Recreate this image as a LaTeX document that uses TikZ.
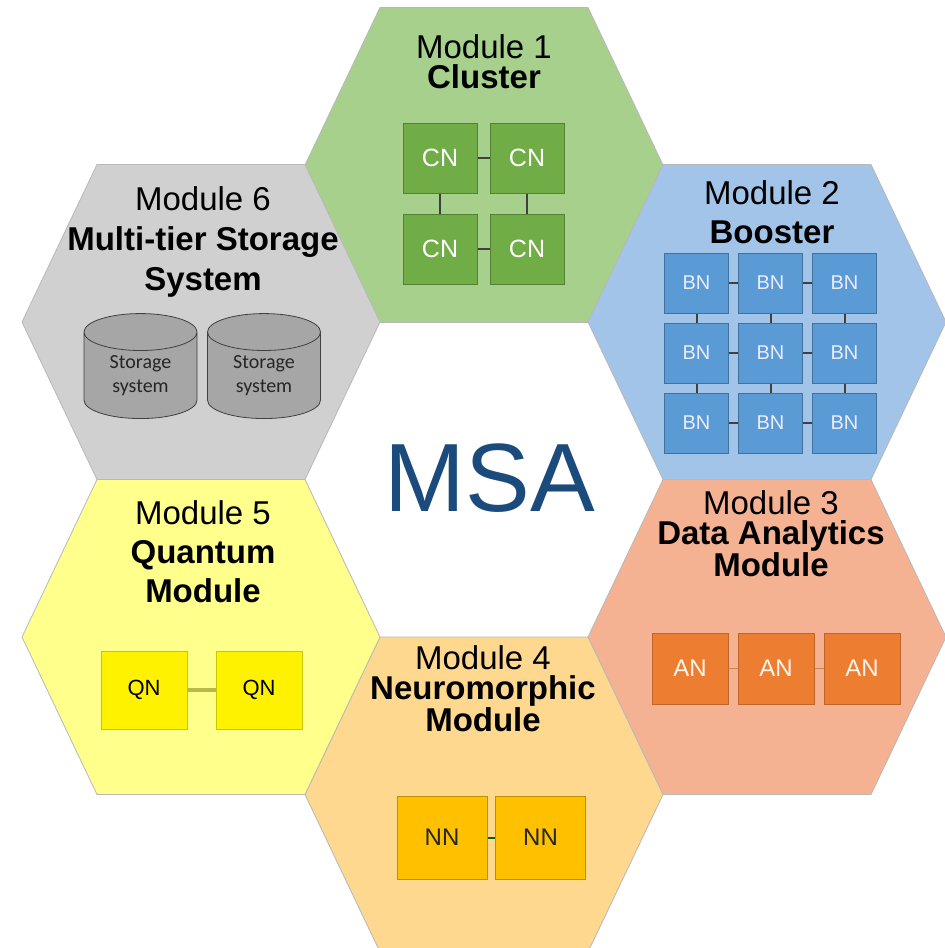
\documentclass[tikz,border=0pt]{standalone}
\usepackage{fontspec}
\setmainfont{Liberation Sans}
\newfontfamily\storefont{Carlito}
\usetikzlibrary{shapes.geometric,positioning}

\definecolor{hexone}{HTML}{A8D08D}
\definecolor{hextwo}{HTML}{A2C4E9}
\definecolor{hexthree}{HTML}{F5B293}
\definecolor{hexfour}{HTML}{FFD88F}
\definecolor{hexfive}{HTML}{FFFF8C}
\definecolor{hexsix}{HTML}{D0D0D0}
\definecolor{msablue}{HTML}{1B4B7C}
\definecolor{cnfill}{HTML}{70AD47}
\definecolor{cndark}{HTML}{548235}
\definecolor{bnfill}{HTML}{5B9BD5}
\definecolor{bndark}{HTML}{41719C}
\definecolor{anfill}{HTML}{ED7D31}
\definecolor{andark}{HTML}{C0652A}
\definecolor{qndark}{HTML}{C8C800}
\definecolor{qnlinkc}{HTML}{B8B84A}
\definecolor{nnfill}{HTML}{FFC000}
\definecolor{nndark}{HTML}{BF9000}

% one honeycomb cell: centre, fill colour
\newcommand\hexcell[2]{%
  \filldraw[hexline, fill=#2] (#1) ++(-179,0) -- ++(75,-157.5) -- ++(208,0)
    -- ++(75,157.5) -- ++(-75,157.5) -- ++(-208,0) -- cycle;}

\begin{document}
\begin{tikzpicture}[%
    x=1pt, y=-1pt,               % pixel grid of the picture
    every node/.style={inner sep=0pt},
    ]
% -------------------------------------------------
% Styles
\tikzset{
  hexline/.style={draw=black!28, line width=0.8pt},
  % titles are anchored at the baseline of their last line
  title/.style={align=center, anchor=base, font=\fontsize{33}{30}\selectfont},
  loose/.style={font=\fontsize{33}{39}\selectfont},
  unit/.style={draw, line width=1pt, align=center},
  cnbox/.style={unit, draw=cndark, fill=cnfill, minimum width=74pt, minimum height=70pt, text=white, font=\fontsize{25}{25}\selectfont},
  bnbox/.style={unit, draw=bndark, fill=bnfill, minimum width=64pt, minimum height=60pt, text=white!92!blue, font=\fontsize{20}{20}\selectfont},
  anbox/.style={unit, draw=andark, fill=anfill, minimum width=76pt, minimum height=71pt, text=white!92!orange, font=\fontsize{24}{24}\selectfont},
  qnbox/.style={unit, draw=qndark, fill=yellow, minimum width=86pt, minimum height=78pt, font=\fontsize{22}{22}\selectfont},
  nnbox/.style={unit, draw=nndark, fill=nnfill, minimum width=90pt, minimum height=83pt, text=black!85, font=\fontsize{24}{24}\selectfont},
  store/.style={cylinder, shape border rotate=90, aspect=0.6, draw=black!75, line width=0.8pt,
    fill=black!35, minimum width=113pt, minimum height=105pt, align=center, text=black!85,
    font=\storefont\fontsize{20}{24}\selectfont},
  % connector lines
  link/.style={draw=black!75, line width=2pt},
  anlink/.style={draw=andark!80, line width=1.5pt},
  qnlink/.style={draw=qnlinkc, line width=4pt},
  nnlink/.style={draw=black!60!green, line width=2pt},
}
% -------------------------------------------------
\path[fill=white, use as bounding box] (0,0) rectangle (945,948);
\coordinate (h1) at (484,165);
\coordinate (h2) at (767,322);
\coordinate (h3) at (767,637);
\coordinate (h4) at (484,794.5);
\coordinate (h5) at (201,637);
\coordinate (h6) at (201,322);
\hexcell{h1}{hexone}
\hexcell{h2}{hextwo}
\hexcell{h3}{hexthree}
\hexcell{h4}{hexfour}
\hexcell{h5}{hexfive}
\hexcell{h6}{hexsix}
% -------------------------------------------------
% Titles
\node[title] (t1) at (484,88) {Module 1\\\textbf{Cluster}};
\node[title, loose] (t2) at (772,243) {Module 2\\\textbf{Booster}};
\node[title] (t3) at (771,576) {Module 3\\\textbf{Data Analytics}\\\textbf{Module}};
\node[title] (t4) at (483,731) {Module 4\\\textbf{Neuromorphic}\\\textbf{Module}};
\node[title, loose] (t5) at (203,602) {Module 5\\\textbf{Quantum}\\\textbf{Module}};
\node[title, font=\fontsize{33}{40}\selectfont] (t6) at (203,290) {Module 6\\\textbf{Multi-tier Storage}\\\textbf{System}};
\node[anchor=base, text=msablue, font=\fontsize{97}{97}\selectfont] (msa) at (490,511) {MSA};
% -------------------------------------------------
% Module 1: cluster nodes
\node[cnbox] (cn1) at (440,158) {CN};
\node[cnbox, right=12pt of cn1] (cn2) {CN};
\node[cnbox, below=20pt of cn1] (cn3) {CN};
\node[cnbox, right=12pt of cn3] (cn4) {CN};
\draw[link] (cn1) -- (cn2);
\draw[link] (cn3) -- (cn4);
\draw[link] (cn1) -- (cn3);
\draw[link] (cn2) -- (cn4);
% Module 2: booster nodes
\foreach \r in {1,2,3}
  \foreach \c in {1,2,3}
    \node[bnbox] (bn\r\c) at ({696.5+74*(\c-1)},{283+70*(\r-1)}) {BN};
\foreach \r in {1,2,3} {
  \draw[link] (bn\r1) -- (bn\r2);
  \draw[link] (bn\r2) -- (bn\r3);
  \draw[link] (bn1\r) -- (bn2\r);
  \draw[link] (bn2\r) -- (bn3\r);
}
% Module 3: analytics nodes
\node[anbox] (an1) at (690,668.5) {AN};
\node[anbox, right=9pt of an1] (an2) {AN};
\node[anbox, right=9pt of an2] (an3) {AN};
\draw[anlink] (an1) -- (an2);
\draw[anlink] (an2) -- (an3);
% Module 4: neuromorphic nodes
\node[nnbox] (nn1) at (442,837.5) {NN};
\node[nnbox, right=7.5pt of nn1] (nn2) {NN};
\draw[nnlink] (nn1) -- (nn2);
% Module 5: quantum nodes
\node[qnbox] (qn1) at (144,690) {QN};
\node[qnbox, right=28pt of qn1] (qn2) {QN};
\draw[qnlink] (qn1) -- (qn2);
% Module 6: storage
\node[store] (st1) at (140.5,375.5) {Storage\\system};
\node[store] (st2) at (264,375.5) {Storage\\system};
\end{tikzpicture}
\end{document}
